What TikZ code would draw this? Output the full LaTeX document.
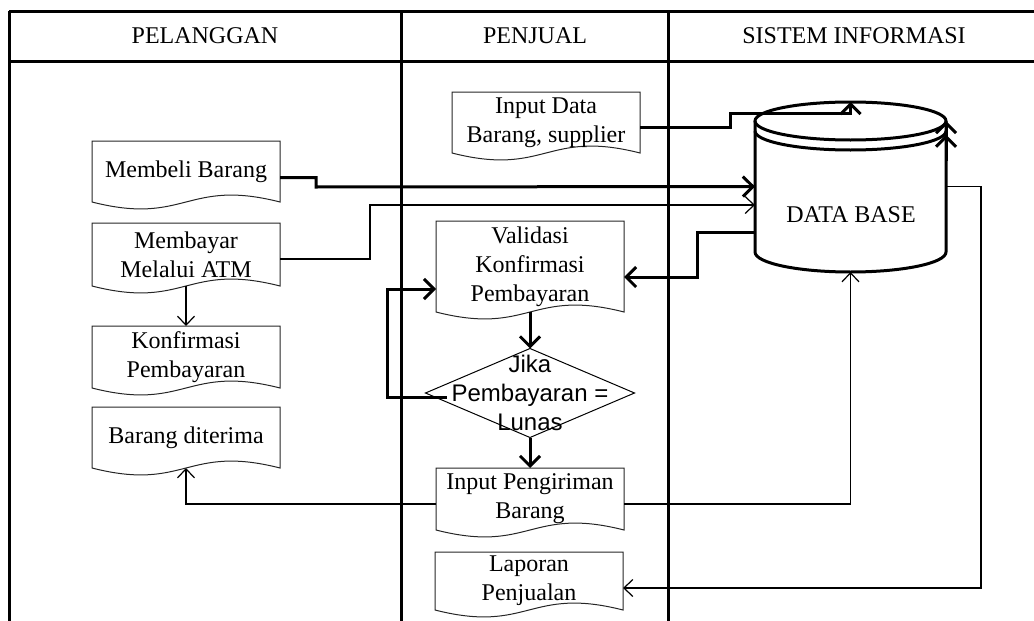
\documentclass[tikz,border=0pt]{standalone}
\usepackage{fontspec}
\setmainfont{Liberation Serif}
\newfontfamily\arialfont{Liberation Sans}
\usetikzlibrary{shapes.geometric, arrows.meta, calc, positioning}

\tikzset{
    every node/.style={font=\fontsize{12pt}{14.5pt}\selectfont},
    lane/.style={line width=1.5pt},
    docline/.style={line width=0.5pt, black!85},
    dbline/.style={line width=1.5pt},
    doc/.style={minimum width=94pt, minimum height=#1, inner sep=0pt, outer sep=0pt, align=center,
        append after command={\pgfextra{\draw[docline] (\tikzlastnode.north west) -- (\tikzlastnode.south west)
            .. controls ($(\tikzlastnode.south)+(0,-12pt)$) and ($(\tikzlastnode.south)+(0,12pt)$) .. (\tikzlastnode.south east)
            -- (\tikzlastnode.north east) -- cycle;}}},
    decision/.style={diamond, draw, line width=0.5pt, minimum width=104.5pt, minimum height=44.5pt, inner sep=0pt, outer sep=0pt},
    flowthick/.style={line width=1.5pt, -{Straight Barb[length=5pt,width=10pt]}},
    flowthin/.style={line width=0.6pt, -{Straight Barb[length=4.5pt,width=8.5pt]}}
}

\begin{document}
\begin{tikzpicture}[x=0.5pt, y=-0.5pt]
    \useasboundingbox (0,0) rectangle (1034,621);

    \draw[lane] (9,11) -- (1040,11);
    \draw[lane] (9,61) -- (1040,61);
    \draw[lane] (9,11) -- (9,625);
    \draw[lane] (401,11) -- (401,625);
    \draw[lane] (668,11) -- (668,625);

    \node (pelanggan) at (205,36) {PELANGGAN};
    \node (penjual) at (535,36) {PENJUAL};
    \node (sistem) at (854,36) {SISTEM INFORMASI};

    \node[doc=30.5pt] (beli) at (186,171.5) {Membeli Barang};
    \node[doc=31.5pt] (bayar) at (186,254.5) {Membayar\\Melalui ATM};
    \node[doc=31pt] (konfirmasi) at (186,357) {Konfirmasi\\Pembayaran};
    \node[doc=30.5pt] (terima) at (186,437.5) {Barang diterima};

    \node[doc=30.5pt] (inputdata) at (546,122.5) {Input Data\\Barang, supplier};
    \node[doc=45.5pt] (validasi) at (530,266.5) {Validasi\\Konfirmasi\\Pembayaran};
    \node[decision] (jika) at (530,393) {};
    \node[font=\arialfont\fontsize{12pt}{14.5pt}\selectfont, align=center] (jikateks) at (jika) {Jika\\Pembayaran =\\Lunas};
    \node[doc=31pt] (kirim) at (530,499) {Input Pengiriman\\Barang};
    \node[doc=29pt] (laporan) at (529,581) {Laporan\\Penjualan};

    \node[minimum width=95.5pt, minimum height=65.5pt, inner sep=0pt, outer sep=0pt] (db) at (850.5,186.5) {};
    \node (dbteks) at (851,215) {DATA BASE};
    \draw[dbline] (db.north west) -- (db.south west)
        arc[start angle=180, end angle=360, x radius=47.75pt, y radius=10pt] -- (db.north east);
    \draw[dbline] (db.north) ellipse[x radius=47.75pt, y radius=9.5pt];
    \draw[dbline] ([yshift=-5pt]db.north west) arc[start angle=180, end angle=360, x radius=47.75pt, y radius=9.5pt];

    \draw[flowthick] ([yshift=-3pt]beli.east) -| (316,187) -- (db.west);
    \draw[flowthin] ([yshift=-2.25pt]bayar.east) -| (370,205) -- ([yshift=-9.25pt]db.west);
    \draw[flowthin] (bayar.south) -- (konfirmasi.north);
    \draw[flowthick] ([yshift=-2.25pt]inputdata.east) -| (730,113) -| ([yshift=9.5pt]db.north);
    \draw[flowthick] ([yshift=-22.75pt]db.west) -| (697,277) -- ([yshift=-5.25pt]validasi.east);
    \draw[flowthick] (validasi.south) -- (jika.north);
    \draw[flowthick] ([xshift=10.5pt,yshift=-2pt]jika.west) -| (387,289) -- ([yshift=-11.25pt]validasi.west);
    \draw[flowthick] (jika.south) -- (kirim.north);
    \draw[flowthin] ([yshift=-2.5pt]kirim.west) -| (terima.south);
    \draw[flowthin] ([yshift=-2.5pt]kirim.east) -| ([yshift=-10pt]db.south);
    \draw[flowthin] (db.east) -- ++(17.5pt,0) |- ([yshift=-3.5pt]laporan.east);
    \draw[line width=1.5pt, -{Straight Barb[length=5pt,width=10pt] Straight Barb[length=5pt,width=10pt]}]
        ([yshift=-20pt]db.north east) -- (db.north east);
\end{tikzpicture}
\end{document}
